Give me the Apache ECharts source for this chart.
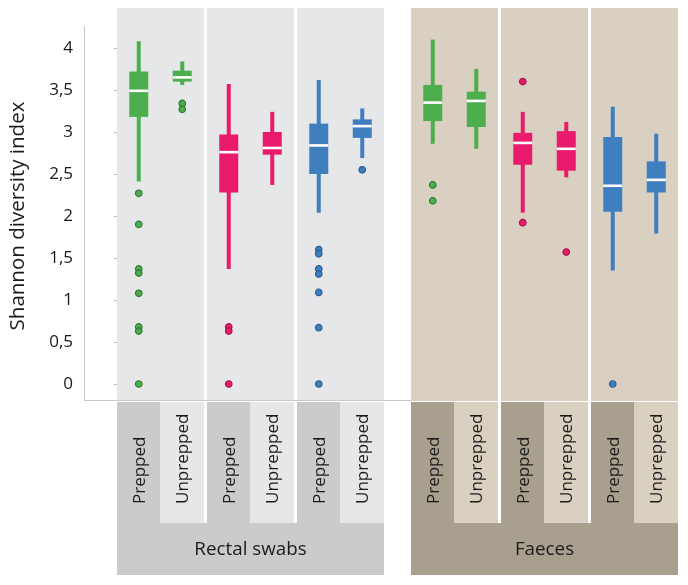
<!DOCTYPE html>
<html><head><meta charset="utf-8">
<script src="https://cdn.jsdelivr.net/npm/echarts@6/dist/echarts.min.js"></script>
<style>html,body{margin:0;padding:0;background:#fff}#c{width:688px;height:585px}</style>
</head><body><div id="c"></div>
<script>
// ---------- data ----------
const sampleTypes = ['Rectal swabs', 'Faeces'];
const conditions = ['Prepped', 'Unprepped'];
const yTicks = [0, 0.5, 1, 1.5, 2, 2.5, 3, 3.5, 4];
// box statistics: [lower whisker, Q1, median, Q3, upper whisker] for the green, pink and blue groups
const rectalPrepped   = [[2.41, 3.18, 3.49, 3.72, 4.08], [1.37, 2.28, 2.76, 2.97, 3.57], [2.04, 2.50, 2.84, 3.10, 3.62]];
const rectalUnprepped = [[3.56, 3.60, 3.65, 3.73, 3.84], [2.37, 2.73, 2.81, 3.00, 3.24], [2.69, 2.93, 3.07, 3.15, 3.28]];
const faecesPrepped   = [[2.86, 3.13, 3.35, 3.56, 4.10], [2.04, 2.61, 2.87, 2.99, 3.24], [1.35, 2.05, 2.36, 2.94, 3.30]];
const faecesUnprepped = [[2.80, 3.06, 3.37, 3.48, 3.75], [2.46, 2.54, 2.80, 3.01, 3.12], [1.79, 2.28, 2.43, 2.65, 2.98]];
// outliers
const rectalPreppedOutliers   = [[2.27, 1.90, 1.37, 1.32, 1.08, 0.68, 0.63, 0], [0.68, 0.63, 0], [1.60, 1.55, 1.37, 1.31, 1.09, 0.67, 0]];
const rectalUnpreppedOutliers = [[3.34, 3.27], [], [2.55]];
const faecesPreppedOutliers   = [[2.37, 2.18], [3.60, 1.92], [0]];
const faecesUnpreppedOutliers = [[], [1.57], []];

// ---------- styles / layout ----------
const boxColors = ['#4cae4c', '#ea1a6c', '#3f7fbf'];
const dotBorders = ['#2e7a32', '#a8104c', '#285d93'];
const panelBg = ['#e6e7e9', '#d9d0c1'];
const labelDark = ['#cbcbcb', '#a99f8f'];
const FONT = '"Open Sans", "Noto Sans", sans-serif';
const panelStart = [0, 3.2667];   // x-units, one unit = one sub-panel pitch
const subWidth = 0.9667;
const condOffset = [0.2417, 0.725];
const BOX_W = 0.2111;

const stats = [[rectalPrepped, rectalUnprepped], [faecesPrepped, faecesUnprepped]];
const outl = [[rectalPreppedOutliers, rectalUnpreppedOutliers], [faecesPreppedOutliers, faecesUnpreppedOutliers]];

const boxData = [];
const dotData = [[], [], []];
for (let p = 0; p < 2; p++) for (let g = 0; g < 3; g++) for (let c = 0; c < 2; c++) {
  const x = panelStart[p] + g + condOffset[c];
  const s = stats[p][c][g];
  boxData.push([x, s[0], s[1], s[2], s[3], s[4], g]);
  outl[p][c][g].forEach(v => dotData[g].push([x, v]));
}

function renderBox(params, api) {
  const x = api.value(0);
  const lo = api.coord([x, api.value(1)]);
  const q1 = api.coord([x, api.value(2)]);
  const md = api.coord([x, api.value(3)]);
  const q3 = api.coord([x, api.value(4)]);
  const hi = api.coord([x, api.value(5)]);
  const col = boxColors[api.value(6)];
  const bw = api.size([BOX_W, 0])[0];
  const ww = 4;
  return { type: 'group', children: [
    { type: 'rect', shape: { x: lo[0] - ww / 2, y: hi[1], width: ww, height: lo[1] - hi[1] }, style: { fill: col } },
    { type: 'rect', shape: { x: q1[0] - bw / 2, y: q3[1], width: bw, height: q1[1] - q3[1] }, style: { fill: col } },
    { type: 'rect', shape: { x: md[0] - bw / 2, y: md[1] - 1.3, width: bw, height: 2.6 }, style: { fill: '#ffffff' } }
  ]};
}

function renderFrame(params, api) {
  const cs = params.coordSys;
  const top = 8, panelBottom = 401, labTop = 402, labMid = 523, labBottom = 575;
  const ch = [];
  for (let p = 0; p < 2; p++) {
    const px0 = api.coord([panelStart[p], 0])[0];
    const px1 = api.coord([panelStart[p] + 2 + subWidth, 0])[0];
    ch.push({ type: 'rect', shape: { x: px0, y: labMid, width: px1 - px0, height: labBottom - labMid }, style: { fill: labelDark[p] } });
    ch.push({ type: 'text', x: (px0 + px1) / 2, y: 550, style: { text: sampleTypes[p], font: '18.8px ' + FONT, fill: '#1a1a1a', align: 'center', verticalAlign: 'middle' } });
    for (let g = 0; g < 3; g++) {
      const x0 = api.coord([panelStart[p] + g, 0])[0];
      const x1 = api.coord([panelStart[p] + g + subWidth, 0])[0];
      const xm = (x0 + x1) / 2;
      ch.push({ type: 'rect', shape: { x: x0, y: top, width: x1 - x0, height: panelBottom - top }, style: { fill: panelBg[p] } });
      ch.push({ type: 'rect', shape: { x: x0, y: labTop, width: xm - x0, height: labMid - labTop + 1 }, style: { fill: labelDark[p] } });
      ch.push({ type: 'rect', shape: { x: xm, y: labTop, width: x1 - xm, height: labMid - labTop }, style: { fill: panelBg[p] } });
      [x0 + (xm - x0) / 2, xm + (x1 - xm) / 2].forEach((cx, c) => {
        ch.push({ type: 'text', x: cx + 1, y: 504, rotation: Math.PI / 2,
          style: { text: conditions[c], font: '17px ' + FONT, fill: '#1a1a1a', align: 'left', verticalAlign: 'middle' } });
      });
    }
  }
  // axis lines
  ch.push({ type: 'line', shape: { x1: cs.x + 0.5, y1: 26, x2: cs.x + 0.5, y2: 401 }, style: { stroke: '#c8c8c8', lineWidth: 1 } });
  ch.push({ type: 'line', shape: { x1: cs.x, y1: 400.5, x2: api.coord([panelStart[1], 0])[0], y2: 400.5 }, style: { stroke: '#c8c8c8', lineWidth: 1 } });
  return { type: 'group', children: ch };
}

const chart = echarts.init(document.getElementById('c'), null, { renderer: 'canvas' });
chart.setOption({
  animation: false,
  backgroundColor: '#ffffff',
  grid: { left: 84, right: 10, top: 48, bottom: 201 },
  xAxis: { type: 'value', min: -0.3667, max: 6.2333, show: false },
  yAxis: {
    type: 'value', min: yTicks[0], max: yTicks[yTicks.length - 1], interval: yTicks[1] - yTicks[0],
    axisLine: { show: false },
    axisTick: { show: true, length: 3, lineStyle: { color: '#bdbdbd' } },
    splitLine: { show: false },
    axisLabel: { formatter: v => String(v).replace('.', ','), fontSize: 17, fontFamily: FONT, color: '#1a1a1a', margin: 11 },
    name: 'Shannon diversity index', nameLocation: 'middle', nameGap: 55,
    nameTextStyle: { fontSize: 20.5, fontFamily: FONT, color: '#1a1a1a' }
  },
  series: [
    { type: 'custom', z: 1, silent: true, data: [[0, 0]], renderItem: renderFrame },
    { type: 'custom', z: 3, silent: true, data: boxData, renderItem: renderBox, encode: { x: 0, y: [1, 2, 3, 4, 5] } },
    ...dotData.map((d, g) => ({
      type: 'scatter', z: 4, silent: true, data: d, symbol: 'circle', symbolSize: 6.5,
      itemStyle: { color: boxColors[g], borderColor: dotBorders[g], borderWidth: 1.2, opacity: 1 }
    }))
  ]
});
</script></body></html>
